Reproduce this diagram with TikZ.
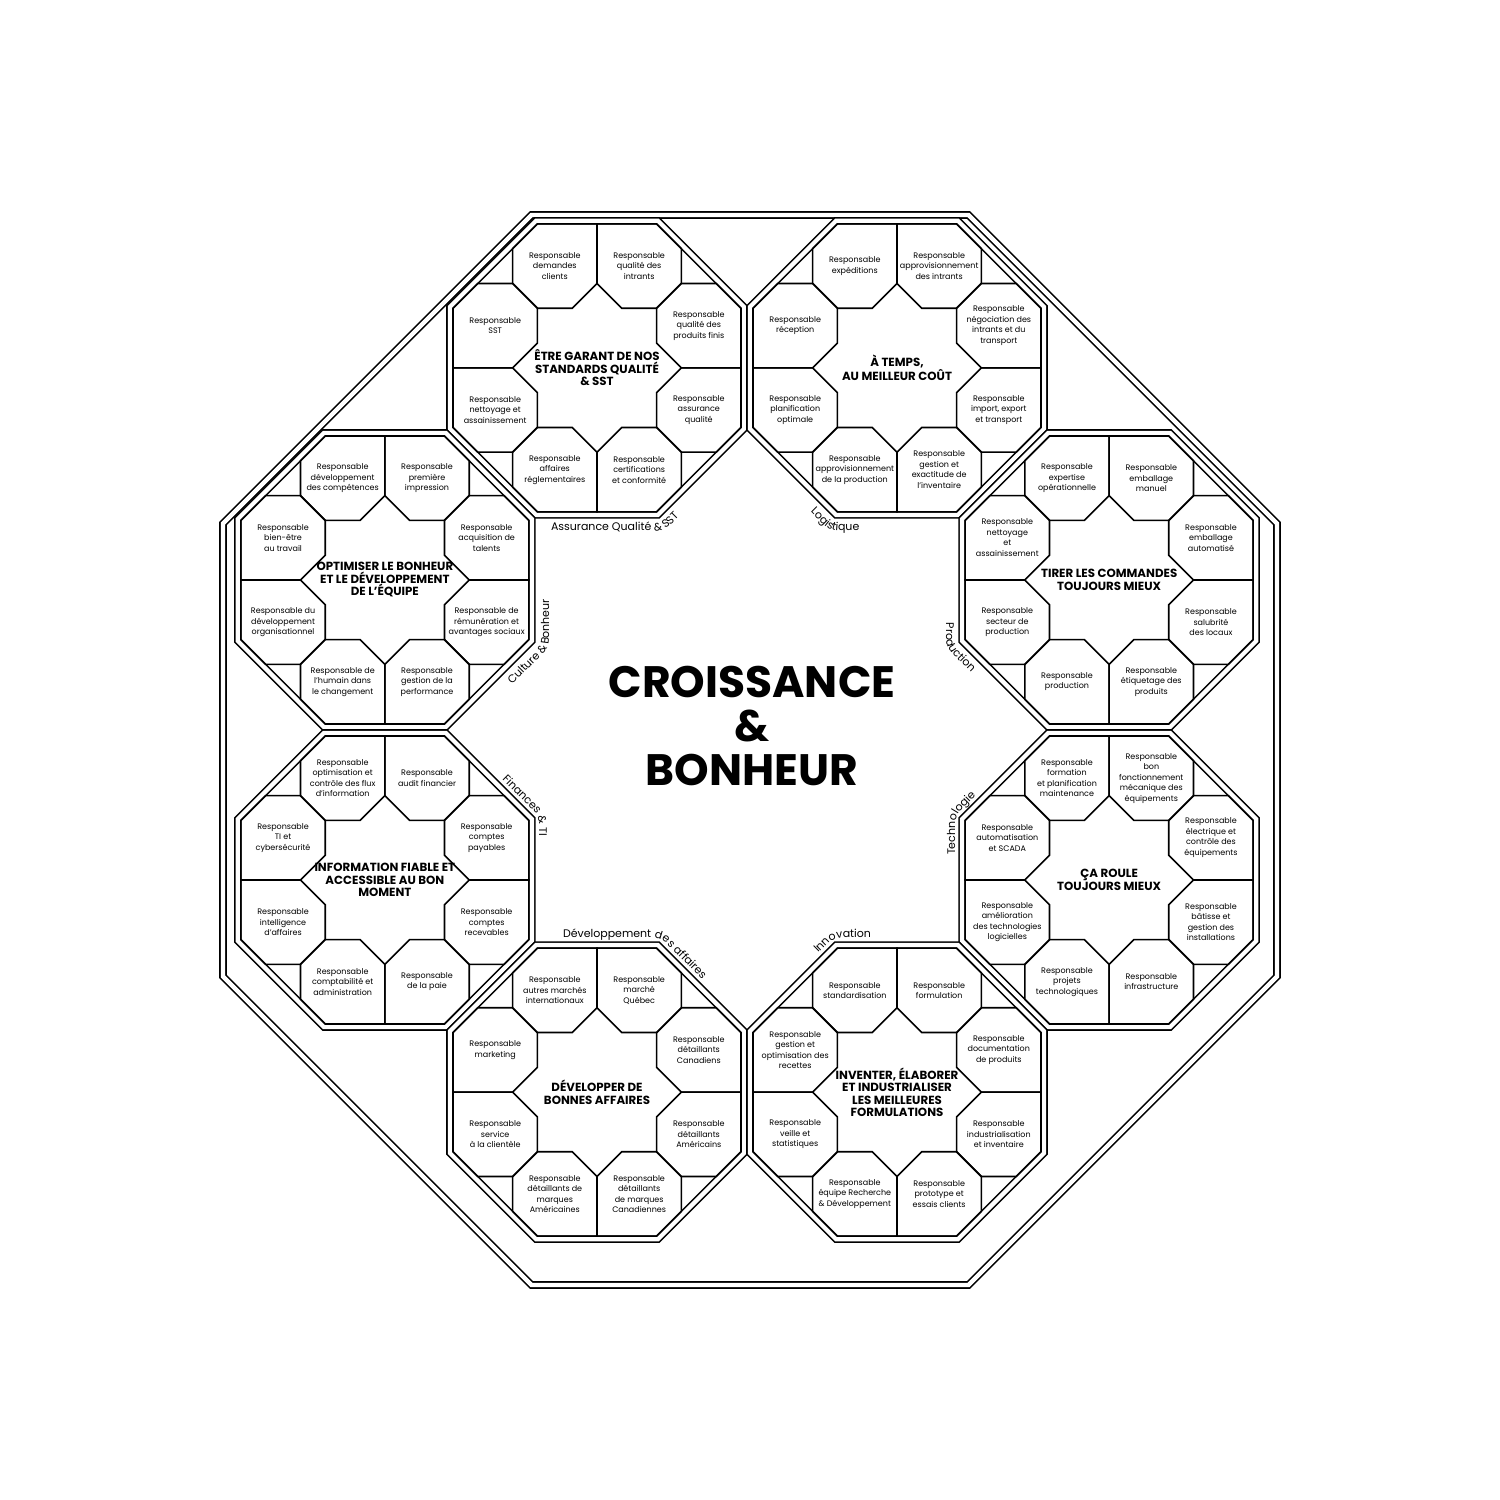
\documentclass[tikz,border=0pt]{standalone}
\usepackage{fontspec}
\setmainfont{Poppins}
\usetikzlibrary{decorations.text}

\newcommand{\etiq}{\fontsize{11}{11}\selectfont}

\tikzset{
  trait/.style={line width=1.6pt, line join=miter},
  trait double/.style={trait, double, double distance=4.4pt},
  role/.style={font=\fontsize{8}{10.5}\selectfont, align=center, inner sep=0pt},
  titre/.style={font=\fontsize{11.8}{12.5}\selectfont\bfseries, align=center, inner sep=0pt},
  grand titre/.style={font=\fontsize{44}{44}\selectfont\bfseries, align=center, inner sep=0pt},
  etiquette/.style={rounded corners=8pt, decorate, decoration={text along path, text align=left, text={|\etiq|#1}}},
}

\newcommand{\octogone}[3][trait]{\draw[#1, shift={(#2)}] (22.5:#3) \foreach \i in {1,...,7} {-- (22.5+45*\i:#3)} -- cycle;}
\newcommand{\petit}[2]{\draw[trait, shift={(#1)}] (#2:59.65) \foreach \i in {0,...,5} {-- (#2+67.5+45*\i:45.65)} -- cycle;}

\newcommand{\cercle}[2]{%
  \octogone[trait double]{#1}{159.1}
  \foreach \j/\c in {0/315,1/135,2/45,3/225,4/135,5/315,6/225,7/45}{
    \path (#1) ++(22.5+45*\j:110.2) coordinate (#1-\j);
    \petit{#1-\j}{\c}
  }
  \node[titre] (#1-titre) at (#1) {#2};
}

\newcommand{\roles}[9]{%
  \node[role] (#1-r0) at (#1-0) {#2};
  \node[role] (#1-r1) at (#1-1) {#3};
  \node[role] (#1-r2) at (#1-2) {#4};
  \node[role] (#1-r3) at (#1-3) {#5};
  \node[role] (#1-r4) at (#1-4) {#6};
  \node[role] (#1-r5) at (#1-5) {#7};
  \node[role] (#1-r6) at (#1-6) {#8};
  \node[role] (#1-r7) at (#1-7) {#9};
}

\begin{document}
\begin{tikzpicture}[x=1pt, y=1pt]
\fill[white] (0,0) rectangle (1500,1500);

\draw[trait double] (968.5,1285) -- (1277,976.5) -- (1277,523.5) -- (968.5,215) -- (531.5,215) -- (223,523.5) -- (223,976.5) -- (531.5,1285) -- cycle;

\coordinate (C) at (747,770);
\foreach \k/\n in {0/prod,1/logi,2/qual,3/equi,4/info,5/affa,6/inno,7/tech}
  \path (C) ++(22.5+45*\k:392) coordinate (\n);

\cercle{qual}{ÊTRE GARANT DE NOS\\STANDARDS QUALITÉ\\\& SST}
\roles{qual}{Responsable\\qualité des\\produits finis}{Responsable\\qualité des\\intrants}{Responsable\\demandes\\clients}{Responsable\\SST}{Responsable\\nettoyage et\\assainissement}{Responsable\\affaires\\réglementaires}{Responsable\\certifications\\et conformité}{Responsable\\assurance\\qualité}

\cercle{logi}{À TEMPS,\\AU MEILLEUR COÛT}
\roles{logi}{Responsable\\négociation des\\intrants et du\\transport}{Responsable\\approvisionnement\\des intrants}{Responsable\\expéditions}{Responsable\\réception}{Responsable\\planification\\optimale}{Responsable\\approvisionnement\\de la production}{Responsable\\gestion et\\exactitude de\\l'inventaire}{Responsable\\import, export\\et transport}

\cercle{equi}{OPTIMISER LE BONHEUR\\ET LE DÉVELOPPEMENT\\DE L'ÉQUIPE}
\roles{equi}{Responsable\\acquisition de\\talents}{Responsable\\première\\impression}{Responsable\\développement\\des compétences}{Responsable\\bien-être\\au travail}{Responsable du\\développement\\organisationnel}{Responsable de\\l'humain dans\\le changement}{Responsable\\gestion de la\\performance}{Responsable de\\rémunération et\\avantages sociaux}

\cercle{prod}{TIRER LES COMMANDES\\TOUJOURS MIEUX}
\roles{prod}{Responsable\\emballage\\automatisé}{Responsable\\emballage\\manuel}{Responsable\\expertise\\opérationnelle}{Responsable\\nettoyage\\et\\assainissement}{Responsable\\secteur de\\production}{Responsable\\production}{Responsable\\étiquetage des\\produits}{Responsable\\salubrité\\des locaux}

\cercle{info}{INFORMATION FIABLE ET\\ACCESSIBLE AU BON\\MOMENT}
\roles{info}{Responsable\\comptes\\payables}{Responsable\\audit financier}{Responsable\\optimisation et\\contrôle des flux\\d'information}{Responsable\\TI et\\cybersécurité}{Responsable\\intelligence\\d'affaires}{Responsable\\comptabilité et\\administration}{Responsable\\de la paie}{Responsable\\comptes\\recevables}

\cercle{tech}{ÇA ROULE\\TOUJOURS MIEUX}
\roles{tech}{Responsable\\électrique et\\contrôle des\\équipements}{Responsable\\bon\\fonctionnement\\mécanique des\\équipements}{Responsable\\formation\\et planification\\maintenance}{Responsable\\automatisation\\et SCADA}{Responsable\\amélioration\\des technologies\\logicielles}{Responsable\\projets\\technologiques}{Responsable\\infrastructure}{Responsable\\bâtisse et\\gestion des\\installations}

\cercle{affa}{DÉVELOPPER DE\\BONNES AFFAIRES}
\roles{affa}{Responsable\\détaillants\\Canadiens}{Responsable\\marché\\Québec}{Responsable\\autres marchés\\internationaux}{Responsable\\marketing}{Responsable\\service\\à la clientèle}{Responsable\\détaillants de\\marques\\Américaines}{Responsable\\détaillants\\de marques\\Canadiennes}{Responsable\\détaillants\\Américains}

\cercle{inno}{INVENTER, ÉLABORER\\ET INDUSTRIALISER\\LES MEILLEURES\\FORMULATIONS}
\roles{inno}{Responsable\\documentation\\de produits}{Responsable\\formulation}{Responsable\\standardisation}{Responsable\\gestion et\\optimisation des\\recettes}{Responsable\\veille et\\statistiques}{Responsable\\équipe Recherche\\\& Développement}{Responsable\\prototype et\\essais clients}{Responsable\\industrialisation\\et inventaire}

\node[grand titre] (titre) at (752,774) {CROISSANCE\\\&\\BONHEUR};

\path[etiquette={Assurance Qualité {\&} SST}] (551,969) -- (664.4,969) -- (710,1014.6);
\path[etiquette={Logistique}] (810.6,988) -- (829.6,969) -- (900,969);
\path[etiquette={Production}] (946,877) -- (946,852.6) -- (1000,798.6);
\path[etiquette={Technologie}] (955,645) -- (955,683.7) -- (1005,733.7);
\path[etiquette={Innovation}] (818,547) -- (833.3,562) -- (900,562);
\path[etiquette={Développement des affaires}] (563,562) -- (660.7,562) -- (725,497.7);
\path[etiquette={Finances {\&} TI}] (502,720.7) -- (539,683.7) -- (539,610);
\path[etiquette={Culture {\&} Bonheur}] (512,815.2) -- (549,852.2) -- (549,925);
\end{tikzpicture}
\end{document}
